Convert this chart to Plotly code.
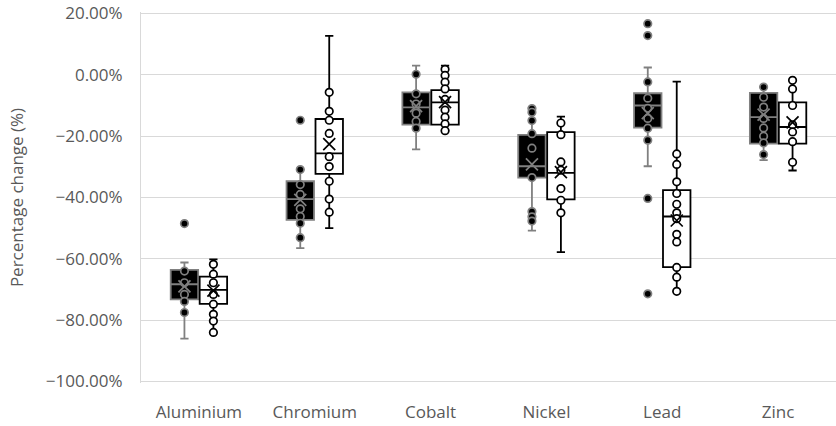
import plotly.graph_objects as go

categories = ["Aluminium", "Chromium", "Cobalt", "Nickel", "Lead", "Zinc"]

# Series A (black boxes) - percent values
a_upper = [-61.2, -30.9, 3.0, -10.8, 2.4, -4.0]
a_q3 = [-63.6, -34.7, -5.7, -19.6, -6.0, -5.9]
a_median = [-68.3, -40.5, -10.6, -29.8, -10.0, -13.8]
a_q1 = [-73.2, -47.3, -16.2, -33.5, -17.2, -22.4]
a_lower = [-86.0, -56.5, -24.3, -50.8, -29.8, -27.8]
a_mean = [-69.0, -40.8, -10.2, -29.2, -12.5, -13.0]
a_points = [
    [-48.5, -64.0, -67.8, -71.6, -73.9, -77.5],
    [-14.8, -30.9, -35.8, -39.0, -43.7, -46.2, -48.4, -53.1],
    [0.2, -6.2, -9.5, -12.5, -15.2, -17.4],
    [-11.0, -12.2, -14.9, -19.2, -23.9, -33.5, -44.6, -46.3, -47.7],
    [16.7, 12.8, -2.3, -7.6, -10.9, -14.2, -17.4, -21.3, -40.3, -71.4],
    [-4.0, -7.3, -10.5, -14.2, -17.3, -20.0, -22.2, -26.0],
]

# Series B (white boxes) - percent values
b_upper = [-60.2, 12.7, 3.0, -13.6, -2.2, -1.8]
b_q3 = [-65.8, -14.4, -5.0, -18.7, -37.6, -9.0]
b_median = [-70.1, -25.6, -9.0, -32.0, -46.2, -17.0]
b_q1 = [-74.7, -32.3, -16.2, -40.6, -62.7, -22.4]
b_lower = [-84.0, -50.0, -18.2, -57.8, -70.6, -31.2]
b_mean = [-70.4, -22.6, -8.9, -31.7, -47.5, -15.5]
b_points = [
    [-61.8, -65.0, -67.8, -71.6, -74.8, -78.1, -80.3, -84.0],
    [-5.7, -11.9, -14.8, -19.1, -26.7, -29.9, -34.7, -40.5, -44.8],
    [1.8, -0.2, -2.4, -4.6, -8.0, -11.5, -13.8, -16.0, -18.2],
    [-15.7, -19.5, -28.4, -31.1, -37.1, -40.9, -45.0],
    [-25.8, -29.2, -34.9, -38.7, -42.2, -45.0, -46.9, -52.0, -54.5, -62.8, -66.0, -70.6],
    [-1.8, -4.6, -10.0, -16.3, -18.6, -21.8, -28.5],
]

yticks = [20, 0, -20, -40, -60, -80, -100]

OFFSET = 0.125
BOX_W = 0.237
pct = lambda arr: [v / 100 for v in arr]

fig = go.Figure()


def add_series(offset, upper, q3, med, q1, lower, mean, points,
               fill, line, mfill, mline, xcolor):
    pos = [i + offset for i in range(len(categories))]
    fig.add_trace(go.Box(
        x=pos, q1=pct(q1), median=pct(med), q3=pct(q3),
        lowerfence=pct(lower), upperfence=pct(upper),
        width=BOX_W, fillcolor=fill, line=dict(color=line, width=1.8),
        whiskerwidth=0.3, boxpoints=False, hoverinfo="skip",
    ))
    px, py = [], []
    for i, pts in enumerate(points):
        px += [pos[i]] * len(pts)
        py += pct(pts)
    fig.add_trace(go.Scatter(
        x=px, y=py, mode="markers",
        marker=dict(symbol="circle", size=7.5, color=mfill,
                    line=dict(color=mline, width=1.7)),
        hoverinfo="skip",
    ))
    fig.add_trace(go.Scatter(
        x=pos, y=pct(mean), mode="markers",
        marker=dict(symbol="x-thin", size=12,
                    line=dict(color=xcolor, width=1.7)),
        hoverinfo="skip",
    ))


add_series(-OFFSET, a_upper, a_q3, a_median, a_q1, a_lower, a_mean, a_points,
           "#000000", "#808080", "#000000", "#808080", "#808080")
add_series(OFFSET, b_upper, b_q3, b_median, b_q1, b_lower, b_mean, b_points,
           "#ffffff", "#000000", "#ffffff", "#000000", "#000000")

font_family = "Open Sans, Liberation Sans, sans-serif"
fig.update_layout(
    width=836, height=426,
    margin=dict(l=141, r=0, t=12, b=43),
    paper_bgcolor="white", plot_bgcolor="white",
    showlegend=False,
    font=dict(family=font_family, size=17, color="#595959"),
    xaxis=dict(
        range=[-0.5, len(categories) - 0.5],
        tickmode="array", tickvals=list(range(len(categories))),
        ticktext=categories, showgrid=False, zeroline=False,
        showline=False, ticks="", ticklabelstandoff=17,
        tickfont=dict(size=17, color="#595959"),
    ),
    yaxis=dict(
        range=[-1.005, 0.205], tickmode="array",
        tickvals=pct(yticks), tickformat=".2%",
        showgrid=True, gridcolor="#d9d9d9", gridwidth=1,
        zeroline=False, showline=True, linecolor="#d9d9d9", linewidth=1,
        ticks="", ticklabelstandoff=14, ticklabeloverflow="allow",
        tickfont=dict(size=17, color="#595959"),
        title=dict(text="Percentage change (%)", standoff=17,
                   font=dict(size=17, color="#595959")),
        automargin=False,
    ),
)

fig.write_html(
    "out.html",
    config={"displayModeBar": False},
    post_script="document.body.style.margin='0';document.body.style.overflow='hidden';",
)
